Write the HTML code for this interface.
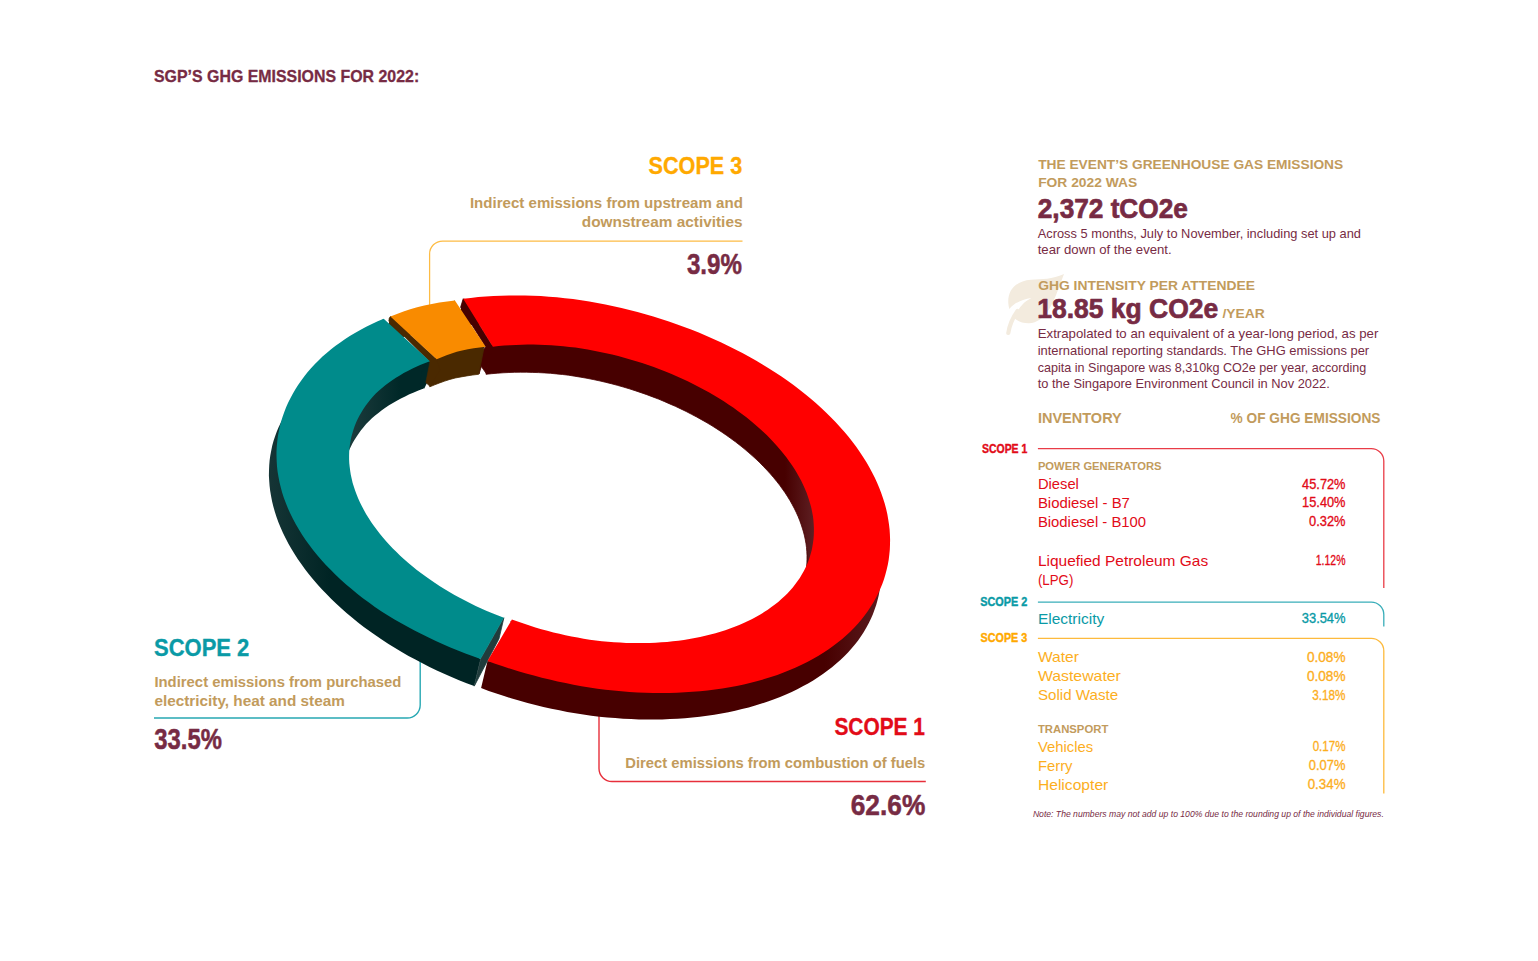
<!DOCTYPE html>
<html><head><meta charset="utf-8"><title>SGP GHG Emissions 2022</title>
<style>html,body{margin:0;padding:0;background:#fff}body{width:1538px;height:961px;overflow:hidden}
svg{display:block;font-family:"Liberation Sans",sans-serif}</style></head>
<body><svg width="1538" height="961" viewBox="0 0 1538 961">
<rect width="1538" height="961" fill="#fff"/>
<g><path d="M1064 274 C1052 279.5 1042 279 1031 279.8 C1016 281 1007.5 290 1008.3 303 C1008.4 305 1008.8 307 1009.3 309 C1015 302.5 1022 299.5 1031.5 298 C1023 302 1017.5 309 1014.8 318.5 C1019 322 1024 323.3 1029 323.2 C1037 323 1043 318 1048 311 C1054 302 1058 290 1064 274Z" fill="#f3ebde"/>
<path d="M1017.5 311 C1012.5 318 1009.5 325 1008.3 333" fill="none" stroke="#f3ebde" stroke-width="4.2" stroke-linecap="round"/></g>

<path d="M742.5 241 H442.6 A13 13 0 0 0 429.6 254 V306" fill="none" stroke="#fdbc45" stroke-width="1.25"/>
<path d="M154 718 H407.2 A13 13 0 0 0 420.2 705 V655" fill="none" stroke="#27a8b3" stroke-width="1.4"/>
<path d="M925.8 781.5 H612 A13 13 0 0 1 599 768.5 V712" fill="none" stroke="#e72f3b" stroke-width="1.4"/>


<defs>
<clipPath id="cin"><path d="M812.5 551.8 L811.5 555.5 L810.3 559.1 L809.0 562.6 L807.5 566.1 L805.9 569.6 L804.1 573.0 L802.2 576.3 L800.1 579.6 L797.8 582.8 L795.4 586.0 L792.9 589.1 L790.2 592.1 L787.4 595.1 L784.4 598.0 L781.3 600.8 L778.0 603.5 L774.6 606.2 L771.1 608.8 L767.5 611.3 L763.7 613.7 L759.8 616.1 L755.7 618.4 L751.6 620.5 L747.3 622.6 L742.9 624.6 L738.4 626.6 L733.8 628.4 L729.1 630.1 L724.3 631.7 L719.4 633.3 L714.4 634.7 L709.3 636.1 L704.1 637.3 L698.9 638.4 L693.5 639.5 L688.1 640.4 L682.6 641.3 L677.0 642.0 L671.4 642.7 L665.7 643.2 L659.9 643.6 L654.1 644.0 L648.2 644.2 L642.3 644.3 L636.4 644.3 L630.4 644.2 L624.4 644.0 L618.3 643.7 L612.2 643.3 L606.1 642.8 L600.0 642.2 L593.9 641.5 L587.8 640.7 L581.6 639.8 L575.5 638.8 L569.3 637.7 L563.2 636.4 L557.1 635.1 L551.0 633.7 L544.9 632.2 L538.9 630.6 L532.8 628.9 L526.9 627.1 L520.9 625.2 L515.0 623.3 L509.1 621.2 L503.3 619.0 L497.6 616.8 L491.9 614.5 L486.2 612.1 L480.6 609.6 L475.1 607.0 L469.7 604.4 L464.3 601.6 L459.1 598.8 L453.9 596.0 L448.8 593.0 L443.8 590.0 L438.9 586.9 L434.1 583.8 L429.3 580.6 L424.7 577.3 L420.2 574.0 L415.9 570.6 L411.6 567.2 L407.4 563.7 L403.4 560.1 L399.5 556.6 L395.7 552.9 L392.0 549.3 L388.5 545.6 L385.1 541.8 L381.9 538.1 L378.7 534.3 L375.8 530.4 L372.9 526.6 L370.2 522.7 L367.7 518.8 L365.3 514.9 L363.0 511.0 L360.9 507.0 L359.0 503.1 L357.2 499.1 L355.6 495.1 L354.1 491.2 L352.8 487.2 L351.6 483.3 L350.6 479.3 L349.7 475.4 L349.0 471.4 L348.5 467.5 L348.2 463.6 L347.9 459.8 L347.9 455.9 L348.0 452.1 L348.3 448.3 L348.7 444.5 L349.3 440.8 L350.1 437.1 L351.0 433.4 L352.1 429.8 L353.4 426.3 L354.8 422.7 L356.3 419.3 L358.0 415.8 L359.9 412.5 L361.9 409.2 L364.1 405.9 L366.4 402.7 L368.9 399.6 L371.5 396.5 L374.2 393.5 L377.1 390.6 L380.2 387.7 L383.4 384.9 L386.7 382.2 L390.1 379.6 L393.7 377.0 L397.5 374.6 L401.3 372.2 L405.3 369.9 L409.4 367.6 L413.6 365.5 L417.9 363.4 L422.3 361.5 L426.9 359.6 L431.5 357.9 L436.3 356.2 L441.2 354.6 L446.1 353.1 L451.2 351.7 L456.3 350.4 L461.5 349.2 L466.9 348.1 L472.2 347.1 L477.7 346.2 L483.2 345.4 L488.8 344.7 L494.5 344.2 L500.2 343.7 L506.0 343.3 L511.9 343.0 L517.8 342.8 L523.7 342.8 L529.7 342.8 L535.7 343.0 L541.7 343.2 L547.8 343.5 L553.9 344.0 L560.0 344.6 L566.1 345.2 L572.2 346.0 L578.4 346.8 L584.5 347.8 L590.6 348.9 L596.8 350.0 L602.9 351.3 L609.0 352.7 L615.1 354.1 L621.2 355.7 L627.2 357.3 L633.2 359.1 L639.2 360.9 L645.1 362.8 L651.0 364.9 L656.8 367.0 L662.6 369.2 L668.3 371.4 L674.0 373.8 L679.6 376.3 L685.2 378.8 L690.6 381.4 L696.0 384.1 L701.3 386.9 L706.6 389.7 L711.7 392.6 L716.8 395.6 L721.7 398.6 L726.6 401.7 L731.4 404.9 L736.0 408.2 L740.6 411.5 L745.0 414.8 L749.3 418.2 L753.6 421.7 L757.7 425.2 L761.6 428.7 L765.5 432.3 L769.2 436.0 L772.8 439.7 L776.2 443.4 L779.6 447.1 L782.8 450.9 L785.8 454.7 L788.7 458.6 L791.5 462.4 L794.1 466.3 L796.6 470.2 L798.9 474.2 L801.1 478.1 L803.1 482.1 L805.0 486.0 L806.7 490.0 L808.2 493.9 L809.6 497.9 L810.9 501.9 L812.0 505.8 L812.9 509.8 L813.7 513.7 L814.3 517.6 L814.7 521.5 L815.0 525.4 L815.1 529.3 L815.1 533.1 L814.9 536.9 L814.5 540.7 L814.0 544.4 L813.3 548.2 L812.5 551.8Z"/></clipPath>
<linearGradient id="gred" gradientUnits="userSpaceOnUse" x1="825" y1="0" x2="890" y2="0">
<stop offset="0" stop-color="#470000"/><stop offset="1" stop-color="#5e2024"/></linearGradient>
<linearGradient id="gredin" gradientUnits="userSpaceOnUse" x1="785" y1="0" x2="815" y2="0">
<stop offset="0" stop-color="#470000"/><stop offset="1" stop-color="#5e2024"/></linearGradient>
<linearGradient id="gteal" gradientUnits="userSpaceOnUse" x1="268" y1="0" x2="330" y2="0">
<stop offset="0" stop-color="#163536"/><stop offset="1" stop-color="#002424"/></linearGradient>
<linearGradient id="gtealin" gradientUnits="userSpaceOnUse" x1="350" y1="0" x2="400" y2="0">
<stop offset="0" stop-color="#1c3b3c"/><stop offset="1" stop-color="#002828"/></linearGradient>
</defs>
<g id="ring" stroke-linejoin="round">
<path d="M383.7 318.7 L379.3 322.6 L373.5 325.2 L367.8 328.0 L362.3 330.8 L357.0 333.8 L351.8 336.9 L346.8 340.1 L342.0 343.4 L337.3 346.8 L332.8 350.3 L328.5 353.9 L324.3 357.6 L320.3 361.3 L316.5 365.2 L312.8 369.1 L309.3 373.1 L306.0 377.2 L302.9 381.4 L300.0 385.7 L297.2 390.0 L294.7 394.4 L292.3 398.8 L290.0 403.3 L288.0 407.9 L286.2 412.5 L284.5 417.2 L283.1 422.0 L281.8 426.8 L280.8 431.6 L279.9 436.5 L279.2 441.5 L278.8 446.4 L278.5 451.5 L278.5 456.5 L278.7 461.6 L279.0 466.8 L279.6 471.9 L280.5 477.1 L281.5 482.3 L282.8 487.5 L284.2 492.8 L285.9 498.0 L287.9 503.2 L290.0 508.5 L292.4 513.7 L295.0 518.9 L297.8 524.1 L300.8 529.3 L304.1 534.5 L307.6 539.6 L311.3 544.7 L315.2 549.8 L319.3 554.8 L323.6 559.8 L328.1 564.7 L332.8 569.6 L337.7 574.4 L342.7 579.1 L348.0 583.8 L353.4 588.4 L359.0 592.9 L364.7 597.3 L370.6 601.7 L376.7 606.0 L382.9 610.2 L389.3 614.2 L395.8 618.1 L402.4 621.9 L409.2 625.6 L416.0 629.3 L423.0 632.8 L430.0 636.2 L437.2 639.6 L444.4 642.8 L451.7 645.9 L459.1 648.9 L466.6 651.8 L474.1 654.7 L480.6 659.0 L474.2 686.1 L466.6 683.2 L459.0 680.2 L451.5 677.0 L444.1 673.8 L436.8 670.4 L429.5 666.9 L422.4 663.3 L415.4 659.6 L408.5 655.9 L401.7 652.0 L395.1 648.0 L388.5 644.0 L382.1 639.8 L375.9 635.6 L369.8 631.3 L363.8 626.9 L358.0 622.4 L352.3 617.8 L346.8 613.2 L341.5 608.5 L336.3 603.8 L331.3 599.0 L326.5 594.1 L321.8 589.2 L317.3 584.3 L313.0 579.3 L308.9 574.2 L305.0 569.2 L301.3 564.1 L297.7 558.9 L294.4 553.8 L291.2 548.6 L288.3 543.4 L285.5 538.1 L283.0 532.9 L280.7 527.7 L278.5 522.4 L276.6 517.2 L274.9 512.0 L273.4 506.7 L272.1 501.5 L271.1 496.3 L270.2 491.1 L269.6 485.9 L269.2 480.8 L268.9 475.7 L269.0 470.6 L269.2 465.6 L269.6 460.6 L270.3 455.6 L271.2 450.7 L272.2 445.8 L273.5 441.0 L275.1 436.3 L276.8 431.6 L278.7 427.0 L280.9 422.4 L283.2 417.9 L285.8 413.5 L288.6 409.2 L291.5 404.9 L294.7 400.8 L298.1 396.7 L301.6 392.7 L305.4 388.8 L309.4 385.0 L313.6 381.3 L317.9 377.8 L322.5 374.3 L327.2 370.9 L332.1 367.7 L337.2 364.6 L342.5 361.5 L347.9 358.6 L353.5 355.8 L359.2 353.1 L365.1 350.6 L371.1 348.1 L377.3 345.8Z" fill="url(#gteal)"/>
<path d="M463.2 298.8 L471.6 299.6 L479.1 298.9 L486.7 298.3 L494.3 297.8 L502.0 297.5 L509.8 297.3 L517.6 297.3 L525.4 297.4 L533.3 297.7 L541.3 298.1 L549.2 298.6 L557.2 299.3 L565.2 300.2 L573.2 301.1 L581.2 302.3 L589.2 303.5 L597.2 305.0 L605.2 306.5 L613.2 308.2 L621.1 310.0 L629.1 311.9 L636.9 313.9 L644.8 316.1 L652.6 318.4 L660.3 320.8 L668.0 323.3 L675.6 325.9 L683.2 328.7 L690.7 331.5 L698.1 334.5 L705.5 337.5 L712.7 340.7 L719.9 344.0 L727.0 347.3 L734.0 350.8 L740.9 354.4 L747.6 358.0 L754.3 361.8 L760.9 365.6 L767.3 369.5 L773.6 373.5 L779.8 377.6 L785.8 381.8 L791.8 386.1 L797.5 390.4 L803.2 394.8 L808.6 399.3 L813.9 403.8 L819.1 408.4 L824.1 413.1 L828.9 417.8 L833.6 422.6 L838.1 427.4 L842.4 432.3 L846.5 437.2 L850.4 442.2 L854.2 447.2 L857.8 452.2 L861.2 457.3 L864.3 462.4 L867.3 467.5 L870.1 472.6 L872.7 477.7 L875.1 482.9 L877.3 488.1 L879.3 493.2 L881.1 498.4 L882.7 503.6 L884.1 508.8 L885.3 513.9 L886.3 519.0 L887.0 524.2 L887.6 529.3 L888.0 534.4 L888.1 539.4 L888.1 544.5 L887.8 549.5 L887.4 554.4 L886.7 559.4 L885.8 564.3 L884.8 569.1 L883.5 573.9 L882.0 578.6 L880.4 583.3 L878.5 588.0 L876.4 592.6 L874.1 597.1 L871.6 601.5 L869.0 605.9 L866.1 610.2 L863.0 614.4 L859.7 618.6 L856.2 622.6 L852.6 626.6 L848.7 630.5 L844.7 634.3 L840.4 638.0 L836.0 641.6 L831.4 645.0 L826.6 648.4 L821.6 651.7 L816.5 654.9 L811.2 657.9 L805.7 660.8 L800.0 663.6 L794.2 666.3 L788.2 668.8 L782.1 671.2 L775.9 673.5 L769.4 675.7 L762.9 677.7 L756.2 679.5 L749.4 681.3 L742.5 682.9 L735.5 684.3 L728.4 685.6 L721.1 686.8 L713.8 687.8 L706.4 688.7 L698.9 689.5 L691.4 690.1 L683.8 690.5 L676.1 690.9 L668.3 691.0 L660.6 691.1 L652.7 691.0 L644.9 690.8 L637.0 690.4 L629.1 689.9 L621.2 689.3 L613.2 688.6 L605.3 687.7 L597.3 686.7 L589.4 685.5 L581.5 684.2 L573.6 682.7 L565.8 681.2 L557.9 679.5 L550.1 677.7 L542.3 675.7 L534.5 673.7 L526.7 671.6 L519.0 669.3 L511.3 667.0 L503.7 664.5 L496.1 661.9 L487.5 661.0 L481.1 688.1 L488.7 690.9 L496.4 693.5 L504.1 696.1 L511.9 698.5 L519.8 700.8 L527.6 702.9 L535.5 705.0 L543.4 706.9 L551.4 708.7 L559.4 710.3 L567.3 711.9 L575.3 713.3 L583.3 714.6 L591.3 715.7 L599.3 716.7 L607.3 717.5 L615.2 718.1 L623.2 718.7 L631.1 719.1 L638.9 719.4 L646.7 719.5 L654.5 719.5 L662.2 719.4 L669.9 719.1 L677.5 718.7 L685.0 718.2 L692.4 717.5 L699.8 716.7 L707.1 715.8 L714.3 714.7 L721.4 713.5 L728.4 712.2 L735.2 710.7 L742.0 709.1 L748.7 707.4 L755.2 705.5 L761.6 703.6 L767.9 701.5 L774.1 699.2 L780.1 696.9 L786.0 694.4 L791.7 691.9 L797.3 689.2 L802.8 686.3 L808.1 683.4 L813.2 680.4 L818.1 677.2 L822.9 674.0 L827.6 670.6 L832.0 667.2 L836.3 663.6 L840.4 660.0 L844.3 656.2 L848.0 652.4 L851.5 648.5 L854.9 644.5 L858.1 640.4 L861.0 636.2 L863.8 631.9 L866.4 627.6 L868.7 623.2 L870.9 618.7 L872.9 614.2 L874.6 609.6 L876.2 604.9 L877.5 600.2 L878.7 595.4 L879.6 590.6 L880.3 585.7 L880.9 580.8 L881.2 575.9 L881.3 570.9 L881.1 565.8 L880.8 560.8 L880.3 555.7 L879.5 550.6 L878.6 545.5 L877.4 540.3 L876.1 535.2 L874.5 530.0 L872.7 524.9 L870.7 519.7 L868.6 514.5 L866.2 509.4 L863.6 504.2 L860.8 499.1 L857.8 494.0 L854.6 488.9 L851.3 483.8 L847.7 478.7 L844.0 473.7 L840.1 468.7 L835.9 463.8 L831.7 458.8 L827.2 454.0 L822.6 449.1 L817.8 444.4 L812.8 439.6 L807.7 435.0 L802.4 430.4 L796.9 425.8 L791.3 421.4 L785.6 417.0 L779.7 412.6 L773.6 408.4 L767.5 404.2 L761.1 400.1 L754.7 396.1 L748.2 392.1 L741.5 388.3 L734.7 384.6 L727.8 380.9 L720.8 377.3 L713.7 373.9 L706.5 370.5 L699.2 367.3 L691.9 364.1 L684.4 361.1 L676.9 358.2 L669.3 355.4 L661.6 352.7 L653.9 350.1 L646.1 347.6 L638.3 345.3 L630.4 343.0 L622.5 340.9 L614.6 339.0 L606.6 337.1 L598.6 335.4 L590.6 333.8 L582.6 332.3 L574.6 331.0 L566.6 329.8 L558.5 328.6 L550.5 327.6 L542.5 326.7 L534.5 326.0 L526.5 325.4 L518.5 324.9 L510.6 324.5 L502.8 324.3 L494.9 324.3 L487.2 324.3 L479.5 324.5 L471.9 324.8 L464.3 325.3 L456.8 325.9Z" fill="url(#gred)"/>
<path d="M390.4 316.5 L398.3 315.3 L404.9 313.0 L411.6 310.7 L418.5 308.7 L425.6 306.9 L433.0 305.5 L440.6 304.2 L448.2 303.1 L454.9 300.4 L448.5 327.5 L440.8 328.6 L433.2 329.9 L425.7 331.4 L418.3 332.9 L411.2 334.8 L404.2 336.8 L397.3 338.9 L390.6 341.2 L384.0 343.6Z" fill="#4a2900"/>
<g clip-path="url(#cin)">
<path d="M428.4 359.9 L423.7 361.7 L419.1 363.6 L414.7 365.5 L410.4 367.6 L406.1 369.7 L402.0 372.0 L398.1 374.3 L394.2 376.7 L390.5 379.2 L386.9 381.7 L383.5 384.4 L380.2 387.1 L377.0 389.8 L374.0 392.7 L371.2 395.7 L368.6 398.8 L366.1 401.9 L363.7 405.1 L361.5 408.3 L359.5 411.7 L357.6 415.0 L355.8 418.5 L354.2 421.9 L352.8 425.5 L351.5 429.0 L350.4 432.7 L349.5 436.3 L348.7 440.0 L348.1 443.7 L347.6 447.5 L347.3 451.3 L347.1 455.2 L347.1 459.0 L347.3 462.9 L347.7 466.8 L348.2 470.7 L348.8 474.7 L349.7 478.6 L350.6 482.6 L351.8 486.6 L353.1 490.5 L354.6 494.5 L356.2 498.5 L358.0 502.5 L359.9 506.4 L362.0 510.4 L364.2 514.3 L366.6 518.3 L369.1 522.2 L371.8 526.1 L374.6 530.0 L377.6 533.8 L380.7 537.7 L384.0 541.5 L387.4 545.2 L390.9 549.0 L394.5 552.7 L398.3 556.3 L402.2 559.9 L406.3 563.5 L410.4 567.0 L414.7 570.5 L419.1 573.9 L423.6 577.3 L428.3 580.6 L433.0 583.8 L437.8 587.0 L442.8 590.1 L447.8 593.1 L453.0 596.1 L458.2 599.0 L463.5 601.9 L468.9 604.6 L474.4 607.3 L479.9 609.9 L485.6 612.4 L491.3 614.9 L497.0 617.2 L502.8 619.5 L497.0 645.4 L491.2 643.2 L485.5 640.9 L479.9 638.5 L474.3 636.0 L468.8 633.5 L463.4 630.8 L458.1 628.1 L452.8 625.3 L447.6 622.5 L442.5 619.6 L437.5 616.6 L432.6 613.5 L427.8 610.4 L423.1 607.2 L418.5 603.9 L414.0 600.6 L409.6 597.3 L405.4 593.8 L401.2 590.4 L397.2 586.8 L393.3 583.3 L389.6 579.7 L385.9 576.0 L382.4 572.3 L379.0 568.6 L375.8 564.8 L372.7 561.1 L369.7 557.2 L366.9 553.4 L364.2 549.5 L361.7 545.7 L359.3 541.8 L357.1 537.8 L355.0 533.9 L353.1 530.0 L351.3 526.0 L349.7 522.1 L348.2 518.2 L346.9 514.2 L345.7 510.3 L344.8 506.3 L343.9 502.4 L343.3 498.5 L342.8 494.6 L342.4 490.8 L342.2 486.9 L342.2 483.1 L342.3 479.3 L342.6 475.5 L343.1 471.8 L343.7 468.1 L344.5 464.4 L345.5 460.8 L346.6 457.2 L347.8 453.6 L349.2 450.1 L350.8 446.7 L352.5 443.3 L354.4 440.0 L356.5 436.7 L358.7 433.4 L361.0 430.3 L363.5 427.2 L366.1 424.1 L368.9 421.2 L371.9 418.3 L375.1 415.6 L378.4 412.9 L381.8 410.3 L385.3 407.8 L389.0 405.3 L392.9 403.0 L396.8 400.7 L400.9 398.5 L405.1 396.4 L409.4 394.3 L413.8 392.4 L418.4 390.6 L423.0 388.8Z" fill="url(#gtealin)"/>
<path d="M426.5 359.5 L429.9 361.2 L431 361.8 L426.8 383.2 L424.3 388.6 L421 388.4 L420 383.2 L421.6 373Z" fill="#002828"/>
<path d="M491.9 345.0 L497.5 344.4 L503.3 343.8 L509.1 343.4 L514.9 343.1 L520.8 342.9 L526.8 342.7 L532.8 342.7 L538.8 342.8 L544.8 343.0 L550.9 343.3 L557.0 343.8 L563.1 344.3 L569.3 344.9 L575.4 345.6 L581.6 346.6 L587.8 347.6 L594.0 348.7 L600.2 349.9 L606.4 351.2 L612.6 352.7 L618.7 354.2 L624.8 355.8 L630.9 357.6 L636.9 359.4 L642.9 361.3 L648.9 363.3 L654.8 365.4 L660.7 367.6 L666.5 369.9 L672.2 372.2 L677.9 374.7 L683.5 377.2 L689.0 379.8 L694.5 382.5 L699.9 385.3 L705.2 388.2 L710.4 391.1 L715.5 394.1 L720.5 397.1 L725.4 400.2 L730.3 403.4 L735.0 406.7 L739.6 410.0 L744.1 413.3 L748.5 416.7 L752.7 420.2 L756.9 423.7 L760.9 427.3 L764.8 430.9 L768.6 434.5 L772.2 438.2 L775.8 441.9 L779.1 445.7 L782.4 449.5 L785.5 453.3 L788.4 457.2 L791.3 461.0 L793.9 464.9 L796.5 468.9 L798.9 472.8 L801.1 476.7 L803.2 480.7 L805.1 484.6 L806.9 488.6 L808.5 492.6 L809.9 496.6 L811.2 500.5 L812.4 504.5 L813.4 508.5 L814.2 512.4 L814.9 516.3 L815.4 520.2 L815.7 524.1 L815.9 528.0 L815.9 531.9 L815.8 535.7 L815.5 539.5 L815.0 543.3 L814.4 547.0 L813.6 550.7 L812.6 554.3 L811.5 558.0 L810.3 561.5 L808.9 565.0 L807.3 568.5 L805.5 571.9 L803.7 575.3 L801.6 578.6 L799.4 581.9 L797.1 585.1 L794.6 588.2 L792.0 591.3 L789.2 594.3 L786.2 597.2 L783.2 600.0 L780.0 602.8 L776.6 605.5 L773.1 608.2 L769.5 610.7 L765.8 613.2 L761.9 615.6 L757.9 617.9 L753.8 620.1 L749.6 622.2 L745.2 624.3 L740.8 626.3 L736.2 628.1 L731.5 629.9 L726.7 631.6 L721.8 633.2 L716.8 634.7 L711.8 636.0 L706.6 637.3 L701.3 638.5 L696.0 639.6 L690.6 640.6 L685.1 641.5 L679.5 642.3 L673.8 643.0 L668.1 643.6 L662.4 644.1 L656.5 644.5 L650.7 644.8 L644.7 644.9 L638.7 645.0 L632.7 645.0 L626.7 644.8 L620.6 644.6 L614.5 644.2 L608.3 643.8 L602.1 643.2 L596.0 642.5 L589.8 641.7 L583.7 640.7 L577.5 639.6 L571.4 638.5 L565.2 637.2 L559.1 635.8 L553.0 634.3 L546.9 632.8 L540.8 631.1 L534.7 629.3 L528.7 627.4 L522.7 625.5 L516.8 623.4 L510.9 621.3 L505.0 647.1 L510.8 649.2 L516.7 651.2 L522.6 653.2 L528.5 655.0 L534.4 656.8 L540.4 658.4 L546.5 660.0 L552.5 661.4 L558.5 662.8 L564.6 664.1 L570.7 665.2 L576.7 666.3 L582.8 667.3 L588.9 668.1 L595.0 668.8 L601.1 669.4 L607.1 669.9 L613.2 670.2 L619.2 670.5 L625.2 670.7 L631.1 670.7 L637.1 670.7 L642.9 670.5 L648.7 670.3 L654.5 669.9 L660.2 669.5 L665.9 668.9 L671.5 668.3 L677.0 667.5 L682.5 666.6 L687.9 665.7 L693.2 664.6 L698.4 663.4 L703.5 662.2 L708.6 660.8 L713.5 659.4 L718.4 657.8 L723.1 656.1 L727.8 654.4 L732.3 652.6 L736.8 650.6 L741.1 648.6 L745.3 646.5 L749.4 644.3 L753.4 642.1 L757.2 639.7 L760.9 637.3 L764.5 634.7 L768.0 632.1 L771.3 629.5 L774.5 626.7 L777.6 623.9 L780.5 621.0 L783.2 618.0 L785.9 615.0 L788.3 611.9 L790.7 608.7 L792.9 605.5 L794.9 602.2 L796.8 598.9 L798.5 595.5 L800.1 592.0 L801.5 588.6 L802.7 585.0 L803.8 581.4 L804.8 577.8 L805.5 574.1 L806.1 570.4 L806.6 566.7 L806.9 562.9 L807.0 559.2 L807.0 555.3 L806.8 551.5 L806.5 547.6 L806.0 543.7 L805.3 539.8 L804.5 535.9 L803.5 532.0 L802.3 528.1 L801.0 524.1 L799.6 520.2 L798.0 516.3 L796.2 512.3 L794.3 508.4 L792.2 504.5 L790.0 500.6 L787.6 496.7 L785.1 492.8 L782.4 489.0 L779.6 485.1 L776.6 481.3 L773.5 477.5 L770.3 473.8 L766.9 470.1 L763.4 466.4 L759.8 462.7 L756.0 459.1 L752.1 455.6 L748.1 452.1 L744.0 448.6 L739.8 445.2 L735.4 441.8 L730.9 438.5 L726.3 435.2 L721.6 432.0 L716.9 428.9 L712.0 425.8 L707.0 422.8 L701.9 419.9 L696.7 417.0 L691.5 414.3 L686.2 411.5 L680.8 408.9 L675.3 406.3 L669.7 403.9 L664.1 401.4 L658.5 399.1 L652.7 396.9 L646.9 394.7 L641.1 392.7 L635.2 390.7 L629.3 388.8 L623.3 387.0 L617.3 385.3 L611.3 383.7 L605.2 382.2 L599.2 380.8 L593.1 379.5 L587.0 378.3 L580.8 377.2 L574.7 376.2 L568.6 375.2 L562.5 374.5 L556.5 373.9 L550.4 373.3 L544.4 372.9 L538.4 372.6 L532.4 372.4 L526.5 372.2 L520.6 372.2 L514.7 372.3 L508.9 372.5 L503.1 372.8 L497.3 373.2 L491.6 373.7 L486.0 374.3Z" fill="url(#gredin)" stroke="#470000" stroke-width="0.8"/>
</g>
<path d="M463.2 298.8 L492.9 346.7 L486.3 373.6 L481.3 366.5 L479 374 L476 360 L485.6 346.7 L460.6 307.2Z" fill="#470000" stroke="#470000" stroke-width="0.8"/>
<g clip-path="url(#cin)">
<path d="M435.2 357.8 L440.1 355.8 L445.1 353.9 L450.3 352.1 L455.5 350.3 L460.9 348.8 L466.6 347.7 L472.5 346.7 L478.5 345.8 L484.5 345.0 L478.7 374.3 L472.7 375.0 L466.8 375.9 L461.0 376.9 L455.2 378.0 L449.9 379.4 L444.7 381.1 L439.6 382.9 L434.7 384.8 L429.8 386.8Z" fill="#4a2900" stroke="#4a2900" stroke-width="0.8"/>
</g>
<path d="M390.4 316.5 L436.7 359.2 L440 370 L429.9 386.3 L425.8 382.6 L429.9 361.8 L388.8 321.2 L389.2 318.1Z" fill="#4a2900" stroke="#4a2900" stroke-width="0.6"/>
<!-- cut faces -->
<path d="M503.9 617.8 L480.65 659.05 L474.25 686.15 L499 638.7Z" fill="#203c3c" stroke="#203c3c" stroke-width="0.8"/>
<path d="M383.7 318.7 L377.7 321.3 L371.9 323.9 L366.2 326.7 L360.7 329.7 L355.4 332.7 L350.2 335.8 L345.2 339.0 L340.3 342.4 L335.6 345.8 L331.1 349.3 L326.7 352.9 L322.5 356.6 L318.5 360.4 L314.7 364.3 L311.0 368.3 L307.5 372.3 L304.2 376.5 L301.1 380.7 L298.1 384.9 L295.4 389.3 L292.8 393.7 L290.4 398.2 L288.1 402.7 L286.1 407.3 L284.3 412.0 L282.6 416.7 L281.1 421.5 L279.9 426.3 L278.8 431.2 L277.9 436.1 L277.3 441.1 L276.8 446.1 L276.5 451.2 L276.5 456.3 L276.7 461.4 L277.0 466.6 L277.6 471.8 L278.5 477.0 L279.5 482.2 L280.8 487.5 L282.2 492.7 L283.9 498.0 L285.9 503.3 L288.0 508.6 L290.4 513.8 L293.0 519.1 L295.8 524.3 L298.9 529.6 L302.1 534.8 L305.6 540.0 L309.3 545.1 L313.2 550.2 L317.3 555.3 L321.6 560.3 L326.1 565.2 L330.9 570.1 L335.8 575.0 L340.8 579.8 L346.1 584.5 L351.6 589.1 L357.2 593.7 L362.9 598.2 L368.9 602.6 L374.9 606.9 L381.2 611.2 L387.6 615.2 L394.1 619.2 L400.8 623.1 L407.6 626.8 L414.5 630.5 L421.5 634.1 L428.6 637.6 L435.8 641.0 L443.0 644.3 L450.4 647.4 L457.9 650.5 L465.4 653.5 L473.0 656.3 L480.6 659.0 L503.9 617.8 L498.1 615.6 L492.4 613.3 L486.8 610.9 L481.2 608.4 L475.7 605.9 L470.3 603.2 L465.0 600.5 L459.7 597.7 L454.5 594.9 L449.4 592.0 L444.4 589.0 L439.5 585.9 L434.7 582.8 L430.0 579.6 L425.4 576.3 L420.9 573.0 L416.5 569.7 L412.3 566.2 L408.1 562.8 L404.1 559.2 L400.2 555.7 L396.5 552.1 L392.8 548.4 L389.3 544.7 L385.9 541.0 L382.7 537.2 L379.6 533.5 L376.6 529.6 L373.8 525.8 L371.1 521.9 L368.6 518.1 L366.2 514.2 L364.0 510.2 L361.9 506.3 L360.0 502.4 L358.2 498.4 L356.6 494.5 L355.1 490.6 L353.8 486.6 L352.6 482.7 L351.7 478.7 L350.8 474.8 L350.2 470.9 L349.7 467.0 L349.3 463.2 L349.1 459.3 L349.1 455.5 L349.2 451.7 L349.5 447.9 L350.0 444.2 L350.6 440.5 L351.4 436.8 L352.4 433.2 L353.5 429.6 L354.7 426.0 L356.1 422.5 L357.7 419.1 L359.4 415.7 L361.3 412.4 L363.4 409.1 L365.6 405.8 L367.9 402.7 L370.4 399.6 L373.0 396.5 L375.8 393.6 L378.8 390.7 L382.0 388.0 L385.3 385.3 L388.7 382.7 L392.2 380.2 L395.9 377.7 L399.8 375.4 L403.7 373.1 L407.8 370.9 L412.0 368.8 L416.3 366.7 L420.7 364.8 L425.3 363.0 L429.9 361.2Z" fill="#008b8b"/>
<path d="M463.2 298.8 L470.7 297.9 L478.2 297.1 L485.8 296.5 L493.5 296.0 L501.3 295.7 L509.1 295.5 L517.0 295.4 L524.9 295.5 L532.8 295.8 L540.8 296.1 L548.9 296.7 L556.9 297.3 L565.0 298.2 L573.0 299.1 L581.2 300.3 L589.3 301.5 L597.4 303.0 L605.4 304.5 L613.5 306.2 L621.5 308.0 L629.5 310.0 L637.5 312.0 L645.4 314.2 L653.3 316.5 L661.1 318.9 L668.9 321.5 L676.6 324.2 L684.2 326.9 L691.8 329.8 L699.3 332.8 L706.7 335.9 L714.0 339.2 L721.3 342.5 L728.4 345.9 L735.4 349.4 L742.4 353.0 L749.2 356.7 L755.9 360.5 L762.5 364.4 L769.0 368.4 L775.3 372.5 L781.5 376.6 L787.6 380.8 L793.5 385.1 L799.3 389.5 L805.0 394.0 L810.5 398.5 L815.8 403.1 L821.0 407.7 L826.0 412.5 L830.8 417.2 L835.5 422.0 L840.0 426.9 L844.3 431.8 L848.5 436.8 L852.4 441.8 L856.2 446.8 L859.8 451.9 L863.1 457.0 L866.3 462.1 L869.3 467.3 L872.1 472.5 L874.7 477.6 L877.1 482.8 L879.3 488.0 L881.3 493.2 L883.1 498.4 L884.7 503.6 L886.1 508.8 L887.3 514.0 L888.2 519.2 L889.0 524.4 L889.6 529.5 L889.9 534.6 L890.1 539.7 L890.0 544.8 L889.8 549.8 L889.3 554.8 L888.7 559.8 L887.8 564.7 L886.7 569.6 L885.4 574.4 L884.0 579.2 L882.3 583.9 L880.4 588.6 L878.3 593.2 L876.0 597.7 L873.5 602.2 L870.8 606.6 L867.9 610.9 L864.8 615.2 L861.5 619.4 L858.1 623.5 L854.4 627.5 L850.5 631.4 L846.4 635.2 L842.2 638.9 L837.7 642.6 L833.1 646.1 L828.3 649.5 L823.3 652.8 L818.1 656.0 L812.8 659.1 L807.3 662.0 L801.6 664.8 L795.8 667.5 L789.8 670.1 L783.6 672.6 L777.3 674.9 L770.9 677.1 L764.3 679.1 L757.6 681.0 L750.8 682.8 L743.8 684.4 L736.7 685.9 L729.6 687.2 L722.3 688.4 L714.9 689.5 L707.5 690.4 L700.0 691.2 L692.3 691.8 L684.7 692.3 L676.9 692.7 L669.1 692.9 L661.3 692.9 L653.4 692.9 L645.5 692.7 L637.5 692.4 L629.5 691.9 L621.5 691.3 L613.5 690.6 L605.5 689.7 L597.4 688.7 L589.5 687.5 L581.5 686.2 L573.5 684.7 L565.6 683.1 L557.6 681.4 L549.7 679.6 L541.8 677.7 L533.9 675.6 L526.1 673.5 L518.3 671.2 L510.5 668.8 L502.8 666.3 L495.1 663.7 L487.5 661.0 L511.9 619.5 L517.7 621.6 L523.6 623.6 L529.5 625.6 L535.4 627.4 L541.3 629.2 L547.3 630.8 L553.4 632.4 L559.4 633.8 L565.4 635.2 L571.5 636.5 L577.6 637.6 L583.6 638.7 L589.7 639.7 L595.8 640.5 L601.9 641.2 L608.0 641.8 L614.0 642.3 L620.1 642.6 L626.1 642.9 L632.1 643.1 L638.0 643.1 L644.0 643.1 L649.8 642.9 L655.6 642.7 L661.4 642.3 L667.1 641.9 L672.8 641.3 L678.4 640.7 L683.9 639.9 L689.4 639.0 L694.8 638.1 L700.1 637.0 L705.3 635.8 L710.4 634.6 L715.5 633.2 L720.4 631.8 L725.3 630.2 L730.0 628.5 L734.7 626.8 L739.2 625.0 L743.7 623.0 L748.0 621.0 L752.2 618.9 L756.3 616.7 L760.3 614.5 L764.1 612.1 L767.8 609.7 L771.4 607.1 L774.9 604.5 L778.2 601.9 L781.4 599.1 L784.5 596.3 L787.4 593.4 L790.1 590.4 L792.8 587.4 L795.2 584.3 L797.6 581.1 L799.8 577.9 L801.8 574.6 L803.7 571.3 L805.4 567.9 L807.0 564.4 L808.4 561.0 L809.6 557.4 L810.7 553.8 L811.7 550.2 L812.4 546.5 L813.0 542.8 L813.5 539.1 L813.8 535.3 L813.9 531.6 L813.9 527.7 L813.7 523.9 L813.4 520.0 L812.9 516.1 L812.2 512.2 L811.4 508.3 L810.4 504.4 L809.2 500.5 L807.9 496.5 L806.5 492.6 L804.9 488.7 L803.1 484.7 L801.2 480.8 L799.1 476.9 L796.9 473.0 L794.5 469.1 L792.0 465.2 L789.3 461.4 L786.5 457.5 L783.5 453.7 L780.4 449.9 L777.2 446.2 L773.8 442.5 L770.3 438.8 L766.7 435.1 L762.9 431.5 L759.0 428.0 L755.0 424.5 L750.9 421.0 L746.7 417.6 L742.3 414.2 L737.8 410.9 L733.2 407.6 L728.5 404.4 L723.8 401.3 L718.9 398.2 L713.9 395.2 L708.8 392.3 L703.6 389.4 L698.4 386.7 L693.1 383.9 L687.7 381.3 L682.2 378.7 L676.6 376.3 L671.0 373.8 L665.4 371.5 L659.6 369.3 L653.8 367.1 L648.0 365.1 L642.1 363.1 L636.2 361.2 L630.2 359.4 L624.2 357.7 L618.2 356.1 L612.1 354.6 L606.1 353.2 L600.0 351.9 L593.9 350.7 L587.7 349.6 L581.6 348.6 L575.5 347.6 L569.4 346.9 L563.4 346.3 L557.3 345.7 L551.3 345.3 L545.3 345.0 L539.3 344.8 L533.4 344.6 L527.5 344.6 L521.6 344.7 L515.8 344.9 L510.0 345.2 L504.2 345.6 L498.5 346.1 L492.9 346.7Z" fill="#ff0000"/>
<path d="M390.4 316.5 L396.9 314.0 L403.5 311.5 L410.2 309.3 L417.1 307.2 L424.3 305.4 L431.8 303.9 L439.4 302.6 L447.1 301.4 L454.9 300.4 L485.6 346.7 L479.6 347.4 L473.7 348.3 L467.9 349.3 L462.1 350.4 L456.8 351.8 L451.6 353.5 L446.5 355.3 L441.6 357.2 L436.7 359.2Z" fill="#f98b00"/>
</g>

<text x="154.0" y="81.8" font-size="16.6" font-weight="bold" fill="#772b44" textLength="265.2" lengthAdjust="spacingAndGlyphs" stroke="#772b44" stroke-width="0.3" stroke-linejoin="round">SGP’S GHG EMISSIONS FOR 2022:</text>
<text x="742.2" y="174" font-size="24.1" font-weight="bold" fill="#ffa900" text-anchor="end" textLength="93.6" lengthAdjust="spacingAndGlyphs" stroke="#ffa900" stroke-width="0.35" stroke-linejoin="round">SCOPE 3</text>
<text x="742.9" y="207.5" font-size="14.6" font-weight="bold" fill="#c29b5c" text-anchor="end" textLength="273" lengthAdjust="spacingAndGlyphs">Indirect emissions from upstream and</text>
<text x="742.5" y="226.8" font-size="14.6" font-weight="bold" fill="#c29b5c" text-anchor="end" textLength="160.7" lengthAdjust="spacingAndGlyphs">downstream activities</text>
<text x="741.9" y="273.7" font-size="29" font-weight="bold" fill="#772b44" text-anchor="end" textLength="55" lengthAdjust="spacingAndGlyphs" stroke="#772b44" stroke-width="0.5" stroke-linejoin="round">3.9%</text>
<text x="154.0" y="655.6" font-size="24.3" font-weight="bold" fill="#0a9aa6" textLength="95.3" lengthAdjust="spacingAndGlyphs" stroke="#0a9aa6" stroke-width="0.35" stroke-linejoin="round">SCOPE 2</text>
<text x="154.4" y="686.9" font-size="14.6" font-weight="bold" fill="#c29b5c" textLength="247" lengthAdjust="spacingAndGlyphs">Indirect emissions from purchased</text>
<text x="154.4" y="705.7" font-size="14.6" font-weight="bold" fill="#c29b5c" textLength="190.5" lengthAdjust="spacingAndGlyphs">electricity, heat and steam</text>
<text x="154.3" y="749.2" font-size="29" font-weight="bold" fill="#772b44" textLength="67.6" lengthAdjust="spacingAndGlyphs" stroke="#772b44" stroke-width="0.5" stroke-linejoin="round">33.5%</text>
<text x="925.0" y="734.9" font-size="23.8" font-weight="bold" fill="#e20b18" text-anchor="end" textLength="90.6" lengthAdjust="spacingAndGlyphs" stroke="#e20b18" stroke-width="0.35" stroke-linejoin="round">SCOPE 1</text>
<text x="925.3" y="767.8" font-size="14.6" font-weight="bold" fill="#c29b5c" text-anchor="end" textLength="300" lengthAdjust="spacingAndGlyphs">Direct emissions from combustion of fuels</text>
<text x="925.3" y="814.9" font-size="29" font-weight="bold" fill="#772b44" text-anchor="end" textLength="74.6" lengthAdjust="spacingAndGlyphs" stroke="#772b44" stroke-width="0.5" stroke-linejoin="round">62.6%</text>


<path d="M1037.9 448.6 H1371.3 A12.5 12.5 0 0 1 1383.8 461.1 V588.1" fill="none" stroke="#e93c47" stroke-width="1.3"/>
<path d="M1037.9 602.1 H1371.3 A12.5 12.5 0 0 1 1383.8 614.6 V626.4" fill="none" stroke="#3aaeb9" stroke-width="1.3"/>
<path d="M1037.9 638.4 H1371.3 A12.5 12.5 0 0 1 1383.8 650.9 V793.6" fill="none" stroke="#fdba3d" stroke-width="1.3"/>

<text x="1038.2" y="169" font-size="13.2" font-weight="bold" fill="#c29b5c" textLength="305" lengthAdjust="spacingAndGlyphs">THE EVENT’S GREENHOUSE GAS EMISSIONS</text>
<text x="1038.2" y="187.2" font-size="13.2" font-weight="bold" fill="#c29b5c" textLength="99" lengthAdjust="spacingAndGlyphs">FOR 2022 WAS</text>
<text x="1037.8" y="218.3" font-size="27" font-weight="bold" fill="#772b44" textLength="150" lengthAdjust="spacingAndGlyphs" stroke="#772b44" stroke-width="0.7" stroke-linejoin="round">2,372 tCO2e</text>
<text x="1037.7" y="237.8" font-size="12.7" font-weight="normal" fill="#772b44" textLength="323.3" lengthAdjust="spacingAndGlyphs">Across 5 months, July to November, including set up and</text>
<text x="1037.7" y="253.9" font-size="12.7" font-weight="normal" fill="#772b44" textLength="134" lengthAdjust="spacingAndGlyphs">tear down of the event.</text>
<text x="1038.2" y="289.5" font-size="13.2" font-weight="bold" fill="#c29b5c" textLength="216.7" lengthAdjust="spacingAndGlyphs">GHG INTENSITY PER ATTENDEE</text>
<text x="1037.2" y="318.3" font-size="27.2" font-weight="bold" fill="#772b44" textLength="181" lengthAdjust="spacingAndGlyphs" stroke="#772b44" stroke-width="0.7" stroke-linejoin="round">18.85 kg CO2e</text>
<text x="1222.4" y="318.1" font-size="12.5" font-weight="bold" fill="#c29b5c" textLength="42.4" lengthAdjust="spacingAndGlyphs">/YEAR</text>
<text x="1037.7" y="338.0" font-size="12.7" font-weight="normal" fill="#772b44" textLength="340.7" lengthAdjust="spacingAndGlyphs">Extrapolated to an equivalent of a year-long period, as per</text>
<text x="1037.7" y="354.7" font-size="12.7" font-weight="normal" fill="#772b44" textLength="331.5" lengthAdjust="spacingAndGlyphs">international reporting standards. The GHG emissions per</text>
<text x="1037.7" y="371.6" font-size="12.7" font-weight="normal" fill="#772b44" textLength="328.5" lengthAdjust="spacingAndGlyphs">capita in Singapore was 8,310kg CO2e per year, according</text>
<text x="1037.7" y="388.3" font-size="12.7" font-weight="normal" fill="#772b44" textLength="292.1" lengthAdjust="spacingAndGlyphs">to the Singapore Environment Council in Nov 2022.</text>
<text x="1037.9" y="423.2" font-size="15" font-weight="bold" fill="#c29b5c" textLength="83.9" lengthAdjust="spacingAndGlyphs">INVENTORY</text>
<text x="1380.4" y="423.2" font-size="15" font-weight="bold" fill="#c29b5c" text-anchor="end" textLength="149.8" lengthAdjust="spacingAndGlyphs">% OF GHG EMISSIONS</text>
<text x="982" y="452.6" font-size="12" font-weight="bold" fill="#e20b18" textLength="45.3" lengthAdjust="spacingAndGlyphs" stroke="#e20b18" stroke-width="0.4" stroke-linejoin="round">SCOPE 1</text>
<text x="980.3" y="605.9" font-size="12" font-weight="bold" fill="#0a9aa6" textLength="47" lengthAdjust="spacingAndGlyphs" stroke="#0a9aa6" stroke-width="0.4" stroke-linejoin="round">SCOPE 2</text>
<text x="980.6" y="642" font-size="12" font-weight="bold" fill="#ffa900" textLength="46.7" lengthAdjust="spacingAndGlyphs" stroke="#ffa900" stroke-width="0.4" stroke-linejoin="round">SCOPE 3</text>
<text x="1037.9" y="469.6" font-size="10.7" font-weight="bold" fill="#c29b5c" textLength="123.6" lengthAdjust="spacingAndGlyphs">POWER GENERATORS</text>
<text x="1037.9" y="488.90000000000003" font-size="14.3" font-weight="normal" fill="#e20b18" textLength="41" lengthAdjust="spacingAndGlyphs">Diesel</text>
<text x="1345.5" y="488.5" font-size="14.8" font-weight="normal" fill="#e20b18" text-anchor="end" textLength="43.4" lengthAdjust="spacingAndGlyphs" stroke="#e20b18" stroke-width="0.35" stroke-linejoin="round">45.72%</text>
<text x="1037.9" y="507.6" font-size="14.3" font-weight="normal" fill="#e20b18" textLength="92" lengthAdjust="spacingAndGlyphs">Biodiesel - B7</text>
<text x="1345.5" y="507.2" font-size="14.8" font-weight="normal" fill="#e20b18" text-anchor="end" textLength="43.4" lengthAdjust="spacingAndGlyphs" stroke="#e20b18" stroke-width="0.35" stroke-linejoin="round">15.40%</text>
<text x="1037.9" y="526.7" font-size="14.3" font-weight="normal" fill="#e20b18" textLength="108.2" lengthAdjust="spacingAndGlyphs">Biodiesel - B100</text>
<text x="1345.5" y="526.3000000000001" font-size="14.8" font-weight="normal" fill="#e20b18" text-anchor="end" textLength="36.4" lengthAdjust="spacingAndGlyphs" stroke="#e20b18" stroke-width="0.35" stroke-linejoin="round">0.32%</text>
<text x="1037.9" y="565.5" font-size="14.3" font-weight="normal" fill="#e20b18" textLength="170.3" lengthAdjust="spacingAndGlyphs">Liquefied Petroleum Gas</text>
<text x="1345.5" y="565.1" font-size="14.8" font-weight="normal" fill="#e20b18" text-anchor="end" textLength="29.7" lengthAdjust="spacingAndGlyphs" stroke="#e20b18" stroke-width="0.35" stroke-linejoin="round">1.12%</text>
<text x="1037.9" y="584.5" font-size="14.3" font-weight="normal" fill="#e20b18" textLength="35.5" lengthAdjust="spacingAndGlyphs">(LPG)</text>
<text x="1037.9" y="623.7" font-size="14.3" font-weight="normal" fill="#0a9aa6" textLength="66.3" lengthAdjust="spacingAndGlyphs">Electricity</text>
<text x="1345.5" y="623.3000000000001" font-size="14.8" font-weight="normal" fill="#0a9aa6" text-anchor="end" textLength="43.7" lengthAdjust="spacingAndGlyphs" stroke="#0a9aa6" stroke-width="0.35" stroke-linejoin="round">33.54%</text>
<text x="1037.9" y="662.0" font-size="14.3" font-weight="normal" fill="#fcae1e" textLength="41" lengthAdjust="spacingAndGlyphs">Water</text>
<text x="1345.5" y="661.6" font-size="14.8" font-weight="normal" fill="#fcae1e" text-anchor="end" textLength="38.6" lengthAdjust="spacingAndGlyphs" stroke="#fcae1e" stroke-width="0.35" stroke-linejoin="round">0.08%</text>
<text x="1037.9" y="681.0" font-size="14.3" font-weight="normal" fill="#fcae1e" textLength="83" lengthAdjust="spacingAndGlyphs">Wastewater</text>
<text x="1345.5" y="680.6" font-size="14.8" font-weight="normal" fill="#fcae1e" text-anchor="end" textLength="38.6" lengthAdjust="spacingAndGlyphs" stroke="#fcae1e" stroke-width="0.35" stroke-linejoin="round">0.08%</text>
<text x="1037.9" y="700.3000000000001" font-size="14.3" font-weight="normal" fill="#fcae1e" textLength="80.2" lengthAdjust="spacingAndGlyphs">Solid Waste</text>
<text x="1345.5" y="699.9000000000001" font-size="14.8" font-weight="normal" fill="#fcae1e" text-anchor="end" textLength="33.3" lengthAdjust="spacingAndGlyphs" stroke="#fcae1e" stroke-width="0.35" stroke-linejoin="round">3.18%</text>
<text x="1037.9" y="751.7" font-size="14.3" font-weight="normal" fill="#fcae1e" textLength="55.3" lengthAdjust="spacingAndGlyphs">Vehicles</text>
<text x="1345.5" y="751.3000000000001" font-size="14.8" font-weight="normal" fill="#fcae1e" text-anchor="end" textLength="32.8" lengthAdjust="spacingAndGlyphs" stroke="#fcae1e" stroke-width="0.35" stroke-linejoin="round">0.17%</text>
<text x="1037.9" y="770.7" font-size="14.3" font-weight="normal" fill="#fcae1e" textLength="34.6" lengthAdjust="spacingAndGlyphs">Ferry</text>
<text x="1345.5" y="770.3000000000001" font-size="14.8" font-weight="normal" fill="#fcae1e" text-anchor="end" textLength="36.7" lengthAdjust="spacingAndGlyphs" stroke="#fcae1e" stroke-width="0.35" stroke-linejoin="round">0.07%</text>
<text x="1037.9" y="789.7" font-size="14.3" font-weight="normal" fill="#fcae1e" textLength="70.4" lengthAdjust="spacingAndGlyphs">Helicopter</text>
<text x="1345.5" y="789.3000000000001" font-size="14.8" font-weight="normal" fill="#fcae1e" text-anchor="end" textLength="37.8" lengthAdjust="spacingAndGlyphs" stroke="#fcae1e" stroke-width="0.35" stroke-linejoin="round">0.34%</text>
<text x="1037.9" y="732.8" font-size="10.7" font-weight="bold" fill="#c29b5c" textLength="70.4" lengthAdjust="spacingAndGlyphs">TRANSPORT</text>
<text x="1032.9" y="816.5" font-size="8.6" font-weight="normal" fill="#772b44" textLength="350.9" lengthAdjust="spacingAndGlyphs" font-style="italic">Note: The numbers may not add up to 100% due to the rounding up of the individual figures.</text>

</svg></body></html>
